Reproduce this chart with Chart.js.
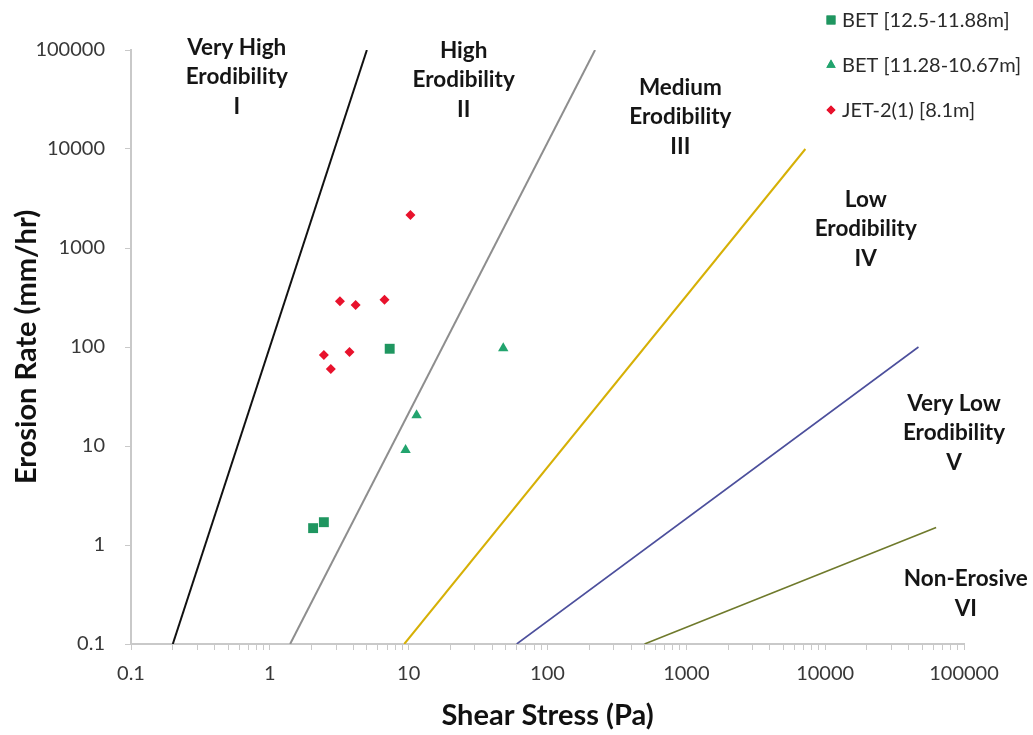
<!DOCTYPE html>
<html>
<head>
<meta charset="utf-8">
<script src="https://cdn.jsdelivr.net/npm/chart.js@4/dist/chart.umd.min.js"></script>
<style>
  html, body { margin: 0; padding: 0; background: #fff; }
  #wrap { width: 1033px; height: 735px; }
</style>
</head>
<body>
<div id="wrap"><canvas id="erosion"></canvas></div>
<script>
  // Measured points, [shear stress Pa, erosion rate mm/hr]
  const betUpper = [[2.05, 1.48], [2.45, 1.7], [7.3, 96]];
  const betLower = [[9.5, 9.1], [11.4, 20.5], [48, 97]];
  const jet2 = [[10.3, 2150], [3.2, 290], [4.15, 265], [6.7, 300], [2.45, 83], [3.75, 89], [2.75, 60]];

  const seriesLabels = ["BET [12.5-11.88m]", "BET [11.28-10.67m]", "JET-2(1) [8.1m]"];

  // Category boundaries, each drawn as a straight segment between two points
  const boundaryVeryHigh = [[0.2, 0.1], [5, 100000]];
  const boundaryHigh = [[1.4, 0.1], [220, 100000]];
  const boundaryMedium = [[9.3, 0.1], [7200, 10000]];
  const boundaryLow = [[60, 0.1], [47000, 100]];
  const boundaryVeryLow = [[500, 0.1], [63000, 1.5]];

  // Zone captions: lines of text, anchored on the middle line at [x, y]
  const zoneText = [
    ["Very High", "Erodibility", "I"],
    ["High", "Erodibility", "II"],
    ["Medium", "Erodibility", "III"],
    ["Low", "Erodibility", "IV"],
    ["Very Low", "Erodibility", "V"],
    ["Non-Erosive", "VI"],
  ];
  const zoneAt = [[0.578, 53400], [24.9, 49700], [906, 21000], [19600, 1560], [84700, 13.5], [103000, 0.32]];

  const xMajorTicks = [0.1, 1, 10, 100, 1000, 10000, 100000];
  const yMajorTicks = [0.1, 1, 10, 100, 1000, 10000, 100000];

  const FONT = "Lato, 'Open Sans', sans-serif";

  function toXY(pairs) {
    return pairs.map(function (p) { return { x: p[0], y: p[1] }; });
  }

  function boundary(pairs, color, width) {
    return {
      type: "line",
      data: toXY(pairs),
      borderColor: color,
      borderWidth: width,
      pointRadius: 0,
      showLine: true,
      fill: false,
    };
  }

  function marks(label, pairs, color, style, radius) {
    return {
      type: "scatter",
      label: label,
      data: toXY(pairs),
      backgroundColor: color,
      borderColor: color,
      borderWidth: 0,
      pointStyle: style,
      pointRadius: radius,
      pointHoverRadius: radius,
    };
  }

  // x axis carries minor ticks at 2..9 of every decade
  function xTickList() {
    const list = [];
    xMajorTicks.forEach(function (d, i) {
      list.push({ value: d, major: true });
      if (i === xMajorTicks.length - 1) return;
      for (let m = 2; m <= 9; m++) list.push({ value: d * m, major: false });
    });
    return list;
  }

  function isMajor(v) {
    return xMajorTicks.some(function (t) { return Math.abs(t - v) / t < 1e-6; });
  }

  function fmt(v) {
    return v < 1 ? String(v) : v.toFixed(0);
  }

  const zoneCaptions = {
    id: "zoneCaptions",
    afterDatasetsDraw: function (chart) {
      const ctx = chart.ctx;
      const xs = chart.scales.x;
      const ys = chart.scales.y;
      ctx.save();
      ctx.fillStyle = "#151515";
      ctx.font = "bold 22.5px " + FONT;
      ctx.textAlign = "center";
      ctx.textBaseline = "middle";
      const lineH = 29.5;
      zoneText.forEach(function (lines, i) {
        const cx = xs.getPixelForValue(zoneAt[i][0]);
        const cy = ys.getPixelForValue(zoneAt[i][1]);
        const mid = lines.length === 3 ? 1 : 0.5;
        lines.forEach(function (txt, j) {
          ctx.fillText(txt, cx, cy + (j - mid) * lineH);
        });
      });
      ctx.restore();
    },
  };

  // Legend stacked at the top right, above and over the plot
  const cornerLegend = {
    id: "cornerLegend",
    afterDraw: function (chart) {
      const ctx = chart.ctx;
      const items = chart.data.datasets.filter(function (d) { return d.label; });
      ctx.save();
      ctx.font = "20px " + FONT;
      ctx.textBaseline = "middle";
      ctx.textAlign = "left";
      items.forEach(function (ds, i) {
        const y = 20 + i * 45;
        ctx.fillStyle = ds.backgroundColor;
        Chart.helpers.drawPoint(ctx, { pointStyle: ds.pointStyle, radius: ds.pointRadius * 0.9, borderWidth: 0 }, 831, y);
        ctx.fill();
        ctx.fillStyle = "#2a2a2a";
        ctx.fillText(ds.label, 842, y + 1);
      });
      ctx.restore();
    },
  };

  new Chart(document.getElementById("erosion"), {
    data: {
      datasets: [
        boundary(boundaryVeryHigh, "#111111", 2),
        boundary(boundaryHigh, "#8e8e8e", 2),
        boundary(boundaryMedium, "#d6b006", 2),
        boundary(boundaryLow, "#4c4f9c", 1.6),
        boundary(boundaryVeryLow, "#6f7a2c", 1.6),
        marks(seriesLabels[0], betUpper, "#1f9660", "rect", 7),
        marks(seriesLabels[1], betLower, "#22a46e", "triangle", 6),
        marks(seriesLabels[2], jet2, "#e8122c", "rectRot", 5),
      ],
    },
    options: {
      responsive: true,
      maintainAspectRatio: false,
      animation: false,
      layout: { padding: { top: 50, right: 69, left: 0, bottom: 0 } },
      plugins: {
        legend: { display: false },
        tooltip: { enabled: false },
      },
      scales: {
        x: {
          type: "logarithmic",
          position: "bottom",
          min: 0.1,
          max: 100000,
          afterBuildTicks: function (scale) { scale.ticks = xTickList(); },
          afterFit: function (scale) { scale.height = 91; },
          border: { display: true, color: "#c9c9c9", width: 2 },
          grid: { drawOnChartArea: false, drawTicks: true, tickLength: 6, color: "#c9c9c9" },
          ticks: {
            autoSkip: false,
            maxRotation: 0,
            padding: 12,
            color: "#383838",
            font: { family: FONT, size: 20 },
            callback: function (v) { return isMajor(v) ? fmt(v) : ""; },
          },
          title: {
            display: true,
            text: "Shear Stress (Pa)",
            color: "#111",
            font: { family: FONT, size: 29, weight: "bold" },
            padding: { top: 0, bottom: 2 },
          },
        },
        y: {
          type: "logarithmic",
          min: 0.1,
          max: 100000,
          afterBuildTicks: function (scale) {
            scale.ticks = yMajorTicks.map(function (v) { return { value: v, major: true }; });
          },
          afterFit: function (scale) { scale.width = 131; },
          border: { display: true, color: "#c9c9c9", width: 2 },
          grid: { drawOnChartArea: false, drawTicks: true, tickLength: 6, color: "#c9c9c9" },
          ticks: {
            autoSkip: false,
            padding: 20,
            color: "#383838",
            font: { family: FONT, size: 20 },
            callback: function (v) { return fmt(v); },
          },
          title: {
            display: true,
            text: "Erosion Rate (mm/hr)",
            color: "#111",
            font: { family: FONT, size: 29, weight: "bold" },
            padding: { top: 9, bottom: 0 },
          },
        },
      },
    },
    plugins: [zoneCaptions, cornerLegend],
  });
</script>
</body>
</html>
